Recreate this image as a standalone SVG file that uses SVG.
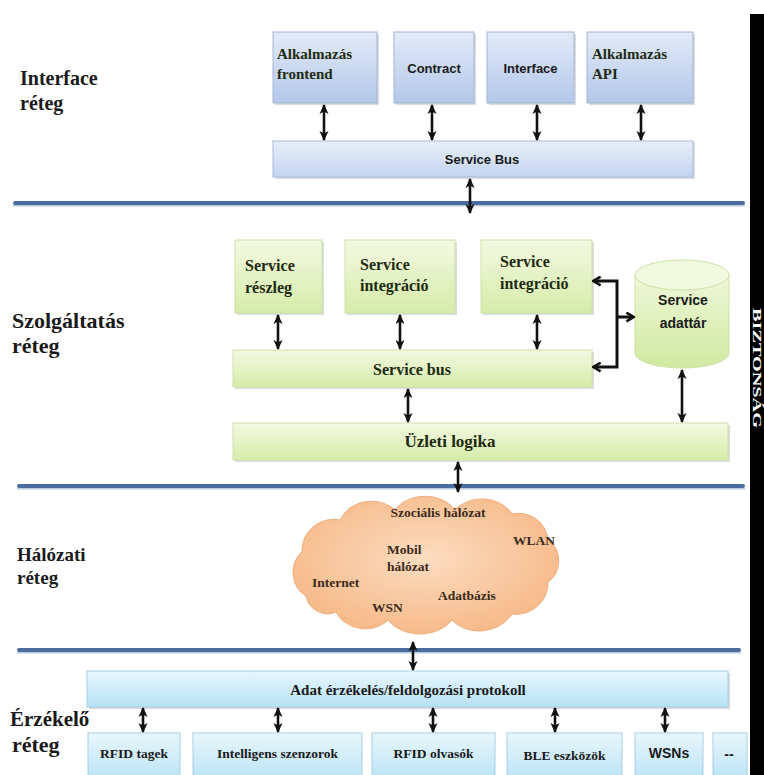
<svg xmlns="http://www.w3.org/2000/svg" width="764" height="775" viewBox="0 0 764 775">
<defs>
<linearGradient id="gBlue" x1="0" y1="0" x2="0" y2="1"><stop offset="0" stop-color="#e3ebf8"/><stop offset="1" stop-color="#b3c7ea"/></linearGradient>
<linearGradient id="gBlueBus" x1="0" y1="0" x2="0" y2="1"><stop offset="0" stop-color="#e8eff9"/><stop offset="1" stop-color="#c3d4f0"/></linearGradient>
<linearGradient id="gGreen" x1="0" y1="0" x2="0" y2="1"><stop offset="0" stop-color="#f3f9e2"/><stop offset="1" stop-color="#d6eca9"/></linearGradient>
<linearGradient id="gCyl" x1="0" y1="0" x2="0" y2="1"><stop offset="0" stop-color="#eef7d8"/><stop offset="1" stop-color="#d0e9a0"/></linearGradient>
<linearGradient id="gCyan" x1="0" y1="0" x2="0" y2="1"><stop offset="0" stop-color="#e9f7fd"/><stop offset="1" stop-color="#b6e2f5"/></linearGradient>
<radialGradient id="gCloud" cx="0.5" cy="0.45" r="0.6"><stop offset="0" stop-color="#fcdcc0"/><stop offset="1" stop-color="#f6b886"/></radialGradient>
<marker id="ah" viewBox="0 0 10 10" refX="9" refY="5" markerWidth="10" markerHeight="10" orient="auto-start-reverse" markerUnits="userSpaceOnUse"><path d="M0,0.5 L10,5 L0,9.5 L2.5,5 z" fill="#111"/></marker>
<marker id="ch" viewBox="0 0 10 10" refX="8" refY="5" markerWidth="11" markerHeight="11" orient="auto-start-reverse" markerUnits="userSpaceOnUse"><path d="M2,1 L8.5,5 L2,9" fill="none" stroke="#111" stroke-width="2.4" stroke-linejoin="miter"/></marker>
</defs>
<style>
.lbl{font-family:"Liberation Serif","Times New Roman",serif;font-weight:bold;fill:#1a1a1a}
.ser{font-family:"Liberation Serif","Times New Roman",serif;font-weight:bold;fill:#1e2a10}
.sans{font-family:"Liberation Sans",Arial,sans-serif;fill:#1a1a1a}
.blue{fill:url(#gBlue);stroke:#a3b6d8;stroke-width:1}
.bus{fill:url(#gBlueBus);stroke:#a8bbdb;stroke-width:1}
.green{fill:url(#gGreen);stroke:#cde2a5;stroke-width:1}
.cyan{fill:url(#gCyan);stroke:#a6d0e4;stroke-width:1}
.sh{fill:#9a9a9a;opacity:0.35}
.lay{fill:#4a6c9f}
.layl{fill:#b9c9e0}
.arr{stroke:#111;stroke-width:2.6;fill:none;marker-start:url(#ah);marker-end:url(#ah)}
.brk{stroke:#111;stroke-width:3;fill:none}
</style>
<rect x="0" y="0" width="764" height="775" fill="#ffffff"/>

<g id="layer-labels">
<text class="lbl" x="20" y="85" font-size="20">Interface</text>
<text class="lbl" x="20" y="110" font-size="20">réteg</text>
<text class="lbl" x="12" y="328" font-size="22">Szolgáltatás</text>
<text class="lbl" x="12" y="353" font-size="22">réteg</text>
<text class="lbl" x="17" y="561" font-size="19">Hálózati</text>
<text class="lbl" x="17" y="584" font-size="19">réteg</text>
<text class="lbl" x="10" y="726" font-size="21">Érzékelő</text>
<text class="lbl" x="12" y="752" font-size="22">réteg</text>
</g>

<g id="layer-lines">
<rect class="lay" x="13" y="201" width="732" height="4" rx="2"/>
<rect class="layl" x="13" y="205" width="732" height="1.5"/>
<rect class="lay" x="17" y="484" width="728" height="4" rx="2"/>
<rect class="layl" x="17" y="488" width="728" height="1.5"/>
<rect class="lay" x="17" y="648" width="724" height="4" rx="2"/>
<rect class="layl" x="17" y="652" width="724" height="1.5"/>
</g>

<g id="security-bar">
<rect x="750" y="14" width="14" height="761" fill="#000"/>
<text class="lbl" transform="translate(757,368) rotate(90)" x="0" y="4.5" font-size="13" text-anchor="middle" textLength="120" lengthAdjust="spacingAndGlyphs" style="fill:#fff">BIZTONSÁG</text>
</g>

<g id="n-alk-frontend">
<rect class="sh" x="275" y="34" width="104" height="71"/>
<rect class="blue" x="273" y="32" width="104" height="71"/>
<text class="ser" x="277" y="59" font-size="15">Alkalmazás</text>
<text class="ser" x="277" y="79" font-size="15">frontend</text>
</g>
<g id="n-contract">
<rect class="sh" x="396" y="34" width="80" height="71"/>
<rect class="blue" x="394" y="32" width="80" height="71"/>
<text class="sans" x="434" y="73" font-size="13" font-weight="bold" text-anchor="middle">Contract</text>
</g>
<g id="n-interface">
<rect class="sh" x="489" y="34" width="87" height="71"/>
<rect class="blue" x="487" y="32" width="87" height="71"/>
<text class="sans" x="530.5" y="73" font-size="13" font-weight="bold" text-anchor="middle">Interface</text>
</g>
<g id="n-alk-api">
<rect class="sh" x="589" y="34" width="106" height="71"/>
<rect class="blue" x="587" y="32" width="106" height="71"/>
<text class="ser" x="592" y="59" font-size="15">Alkalmazás</text>
<text class="ser" x="592" y="79" font-size="15">API</text>
</g>
<g id="n-service-bus-top">
<rect class="sh" x="275" y="143" width="420" height="36"/>
<rect class="bus" x="273" y="141" width="420" height="36"/>
<text class="sans" x="482" y="164" font-size="13" font-weight="bold" text-anchor="middle">Service Bus</text>
</g>

<g id="n-service-reszleg">
<rect class="sh" x="237" y="242" width="87" height="73"/>
<rect class="green" x="235" y="240" width="87" height="73"/>
<text class="ser" x="245" y="271" font-size="16">Service</text>
<text class="ser" x="245" y="293" font-size="16">részleg</text>
</g>
<g id="n-service-integracio-1">
<rect class="sh" x="347" y="242" width="110" height="73"/>
<rect class="green" x="345" y="240" width="110" height="73"/>
<text class="ser" x="360" y="270" font-size="16">Service</text>
<text class="ser" x="360" y="291" font-size="16">integráció</text>
</g>
<g id="n-service-integracio-2">
<rect class="sh" x="483" y="242" width="111" height="73"/>
<rect class="green" x="481" y="240" width="111" height="73"/>
<text class="ser" x="500" y="267" font-size="16">Service</text>
<text class="ser" x="500" y="289" font-size="16">integráció</text>
</g>
<g id="n-service-adattar">
<path d="M635,275 L635,353 A47,15 0 0 0 729,353 L729,275" fill="url(#gCyl)" stroke="#cde2a5" stroke-width="1"/>
<ellipse cx="682" cy="275" rx="47" ry="15" fill="#f1f9e0" stroke="#cde2a5" stroke-width="1"/>
<text class="sans" x="683" y="305" font-size="14" font-weight="bold" text-anchor="middle">Service</text>
<text class="sans" x="683" y="328" font-size="14" font-weight="bold" text-anchor="middle">adattár</text>
</g>
<g id="n-service-bus">
<rect class="sh" x="235" y="352" width="359" height="37"/>
<rect class="green" x="233" y="350" width="359" height="37"/>
<text class="ser" x="412" y="375" font-size="16" text-anchor="middle">Service bus</text>
</g>
<g id="n-uzleti-logika">
<rect class="sh" x="235" y="425" width="495" height="37"/>
<rect class="green" x="233" y="423" width="495" height="37"/>
<text class="ser" x="450" y="447" font-size="17" text-anchor="middle">Üzleti logika</text>
</g>

<g id="n-network-cloud">
<path d="M306,596 A28,28 0 0 1 302,552 A32,32 0 0 1 340,520 A36,36 0 0 1 395,510 A40,40 0 0 1 455,510 A38,38 0 0 1 512,514 A30,30 0 0 1 548,540 A26,26 0 0 1 548,582 A32,32 0 0 1 512,614 A40,40 0 0 1 452,620 A44,44 0 0 1 388,620 A34,34 0 0 1 336,612 A22,22 0 0 1 306,596 Z" fill="url(#gCloud)" stroke="#f1b183" stroke-width="1.2"/>
<text class="ser" x="438" y="517" font-size="13.5" text-anchor="middle" style="fill:#3a2a1a">Szociális hálózat</text>
<text class="ser" x="513" y="545" font-size="13.5" style="fill:#3a2a1a">WLAN</text>
<text class="ser" x="387" y="554" font-size="13.5" style="fill:#3a2a1a">Mobil</text>
<text class="ser" x="387" y="571" font-size="13.5" style="fill:#3a2a1a">hálózat</text>
<text class="ser" x="312" y="587" font-size="13.5" style="fill:#3a2a1a">Internet</text>
<text class="ser" x="438" y="600" font-size="13.5" style="fill:#3a2a1a">Adatbázis</text>
<text class="ser" x="372" y="612" font-size="13.5" style="fill:#3a2a1a">WSN</text>
</g>

<g id="n-protokoll">
<rect class="sh" x="89" y="673" width="641" height="36"/>
<rect class="cyan" x="87" y="671" width="641" height="36"/>
<text class="ser" x="408" y="695" font-size="15" text-anchor="middle" style="fill:#1a1a1a">Adat érzékelés/feldolgozási protokoll</text>
</g>
<g id="n-rfid-tagek">
<rect class="cyan" x="88" y="733" width="92" height="50"/>
<text class="ser" x="134" y="758" font-size="13.5" text-anchor="middle" style="fill:#1a1a1a">RFID tagek</text>
</g>
<g id="n-intelligens">
<rect class="cyan" x="193" y="733" width="169" height="50"/>
<text class="ser" x="277.5" y="758" font-size="13.5" text-anchor="middle" style="fill:#1a1a1a">Intelligens szenzorok</text>
</g>
<g id="n-rfid-olvasok">
<rect class="cyan" x="372" y="733" width="123" height="50"/>
<text class="ser" x="433.5" y="758" font-size="13.5" text-anchor="middle" style="fill:#1a1a1a">RFID olvasók</text>
</g>
<g id="n-ble">
<rect class="cyan" x="507" y="733" width="115" height="50"/>
<text class="ser" x="564.5" y="760" font-size="13.5" text-anchor="middle" style="fill:#1a1a1a">BLE eszközök</text>
</g>
<g id="n-wsns">
<rect class="cyan" x="635" y="733" width="68" height="50"/>
<text class="sans" x="669" y="758" font-size="14" font-weight="bold" text-anchor="middle">WSNs</text>
</g>
<g id="n-more">
<rect class="cyan" x="713" y="733" width="34" height="50"/>
<text class="sans" x="729" y="759" font-size="14" font-weight="bold" text-anchor="middle">--</text>
</g>

<g id="connectors">
<line class="arr" x1="324" y1="105" x2="324" y2="140"/>
<line class="arr" x1="432" y1="105" x2="432" y2="140"/>
<line class="arr" x1="537" y1="105" x2="537" y2="140"/>
<line class="arr" x1="641" y1="105" x2="641" y2="140"/>
<line class="arr" x1="470" y1="179" x2="470" y2="213"/>
<line class="arr" x1="278" y1="315" x2="278" y2="349"/>
<line class="arr" x1="400" y1="315" x2="400" y2="349"/>
<line class="arr" x1="537" y1="315" x2="537" y2="349"/>
<line class="arr" x1="408" y1="389" x2="408" y2="422"/>
<line class="arr" x1="682" y1="370" x2="682" y2="422"/>
<line class="arr" x1="458" y1="462" x2="458" y2="492"/>
<line class="arr" x1="413" y1="642" x2="413" y2="670"/>
<line class="arr" x1="143" y1="708" x2="143" y2="732"/>
<line class="arr" x1="278" y1="708" x2="278" y2="732"/>
<line class="arr" x1="433" y1="708" x2="433" y2="732"/>
<line class="arr" x1="555" y1="708" x2="555" y2="732"/>
<line class="arr" x1="665" y1="708" x2="665" y2="732"/>
<path class="brk" d="M594,281 L617,281 L617,367 L594,367" marker-start="url(#ch)" marker-end="url(#ch)"/>
<path class="brk" d="M617,317 L633,317" marker-end="url(#ch)"/>
</g>
</svg>
